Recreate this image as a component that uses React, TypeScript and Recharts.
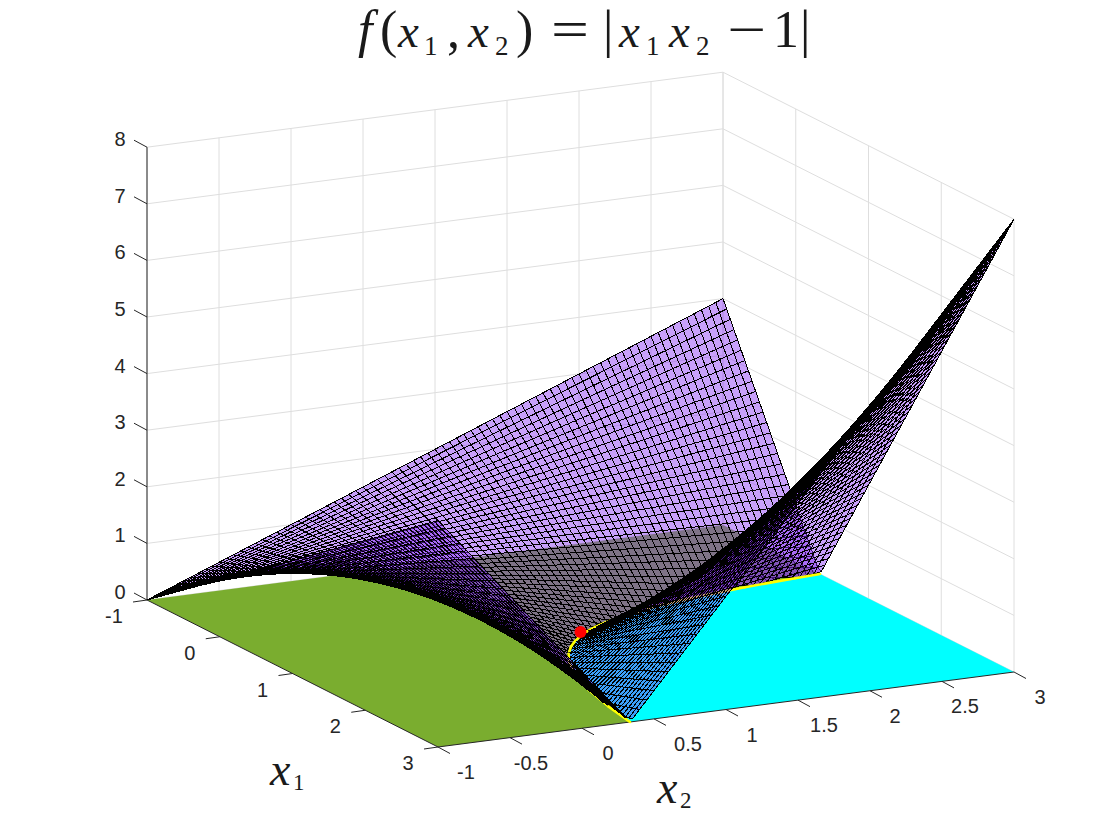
import React from 'react';
import { ScatterChart, Scatter, XAxis, YAxis } from 'recharts';

// Axis ticks as printed on the chart
const x1Ticks = [-1, 0, 1, 2, 3];
const x2Ticks = [-1, -0.5, 0, 0.5, 1, 1.5, 2, 2.5, 3];
const zTicks = [0, 1, 2, 3, 4, 5, 6, 7, 8];
const x2TickText = ['-1', '-0.5', '0', '0.5', '1', '1.5', '2', '2.5', '3'];

// The mesh sample positions; surface heights come from the function the title states.
const meshCells = 80;
const meshX1 = Array.from({ length: meshCells + 1 }, (_, i) => -1 + (4 * i) / meshCells);
const meshX2 = Array.from({ length: meshCells + 1 }, (_, i) => -1 + (4 * i) / meshCells);
const surfaceHeight = (a: number, b: number) => Math.abs(a * b - 1);

// The zero curve x1*x2 = 1, front end to back end
const curveX1 = [3, 2.6, 2.2, 1.9, 1.7, 1.5, 1.35, 1.2, 1.1, 1, 0.92, 0.85, 0.78, 0.7, 0.63, 0.56, 0.5, 0.45, 0.41, 0.38, 0.355, 1 / 3];
const optimum = { x1: 1, x2: 1, z: 0.07 };

const project = (x1: number, x2: number, z: number) => ({
  px: 147 + (x1 + 1) * 72.75 + (x2 + 1) * 144,
  py: 600 + (x1 + 1) * 36.75 - (x2 + 1) * 18.75 - z * 56.6,
});
const depth = (x1: number, x2: number, z: number) => (x1 + 1) / 4 - 0.5 * (x2 + 1) / 4 + 0.4 * z / 8;

type Pt = { px: number; py: number };
type Item = { kind: string; pts: Pt[]; d: number };

const flatten = (items: Item[]) => items.flatMap((it) => it.pts);

const makeRenderer = (items: Item[], attrs: (kind: string) => any) => (props: any) => {
  const points = props.points as { x: number; y: number }[];
  let offset = 0;
  return (
    <g>
      {items.map((it, i) => {
        const n = it.pts.length;
        const slice = points.slice(offset, offset + n);
        offset += n;
        const a = attrs(it.kind);
        const d = slice.map((p, j) => `${j ? 'L' : 'M'}${p.x.toFixed(2)} ${p.y.toFixed(2)}`).join('') + (a.closed ? 'Z' : '');
        const { closed, ...rest } = a;
        return <path key={i} d={d} {...rest} />;
      })}
    </g>
  );
};
const noShape = () => null;

// Back-wall grid
const gridItems: Item[] = [
  ...zTicks.map((z) => ({ kind: 'g', d: 0, pts: [project(-1, -1, z), project(-1, 3, z), project(3, 3, z)] })),
  ...x2Ticks.map((b) => ({ kind: 'g', d: 0, pts: [project(-1, b, 0), project(-1, b, 8)] })),
  ...x1Ticks.map((a) => ({ kind: 'g', d: 0, pts: [project(a, 3, 0), project(a, 3, 8)] })),
];

// Floor regions
const curvePts = curveX1.map((a) => project(a, 1 / a, 0));
const floorItems: Item[] = [
  { kind: 'green', d: 0, pts: [project(-1, -1, 0), project(3, -1, 0), ...curvePts, project(-1, 3, 0)] },
  { kind: 'cyan', d: 0, pts: [...curvePts, project(3, 3, 0)] },
];

// Axes and tick marks
const seg = (p: Pt, dx: number, dy: number): Pt[] => [p, { px: p.px + dx, py: p.py + dy }];
const axisItems: Item[] = [
  { kind: 'a', d: 0, pts: [project(-1, -1, 8), project(-1, -1, 0), project(3, -1, 0), project(3, 3, 0)] },
  ...zTicks.map((z) => ({ kind: 'a', d: 0, pts: seg(project(-1, -1, z), -13, -7) })),
  ...x1Ticks.map((a) => ({ kind: 'a', d: 0, pts: seg(project(a, -1, 0), -14, 2) })),
  ...x2Ticks.map((b) => ({ kind: 'a', d: 0, pts: seg(project(3, b, 0), 12, 6.5) })),
];

// Surface cells and curve pieces, far to near
const surfaceItems: Item[] = [];
for (let i = 0; i < meshCells; i++) {
  for (let j = 0; j < meshCells; j++) {
    const corners = [[meshX1[i], meshX2[j]], [meshX1[i + 1], meshX2[j]], [meshX1[i + 1], meshX2[j + 1]], [meshX1[i], meshX2[j + 1]]];
    const withZ = corners.map(([a, b]) => [a, b, surfaceHeight(a, b)]);
    const mean = [0, 1, 2].map((k) => (withZ[0][k] + withZ[1][k] + withZ[2][k] + withZ[3][k]) / 4);
    surfaceItems.push({ kind: 'cell', d: depth(mean[0], mean[1], mean[2]), pts: withZ.map(([a, b, z]) => project(a, b, z)) });
  }
}
for (let k = 0; k + 1 < curveX1.length; k++) {
  const a = curveX1[k];
  const c = curveX1[k + 1];
  surfaceItems.push({ kind: 'curve', d: depth((a + c) / 2, (1 / a + 1 / c) / 2, 0) + 0.03, pts: [project(a, 1 / a, 0), project(c, 1 / c, 0)] });
}
surfaceItems.sort((p, q) => p.d - q.d);

const styleOf = (kind: string) => {
  if (kind === 'g') return { fill: 'none', stroke: '#dedede', strokeWidth: 1 };
  if (kind === 'a') return { fill: 'none', stroke: '#262626', strokeWidth: 1 };
  if (kind === 'green') return { fill: '#7aad2f', stroke: 'none', closed: true };
  if (kind === 'cyan') return { fill: '#00ffff', stroke: 'none', closed: true };
  if (kind === 'curve') return { fill: 'none', stroke: '#ffff00', strokeWidth: 2.6, strokeLinecap: 'round' };
  return { fill: '#852cf4', fillOpacity: 0.45, stroke: '#000', strokeWidth: 1, shapeRendering: 'crispEdges', closed: true };
};

const tickFont = { fontFamily: '"Liberation Sans", Arial, sans-serif', fontSize: 20, fill: '#262626', textAnchor: 'middle', dominantBaseline: 'central' } as const;
const x2Nudges = [1, -6, -1, 7, -1, -1, -2, -4, -1];
const x1Nudges = [-3, 0, 0, 0, 0];
const zLabelData = zTicks.map((z) => ({ ...project(-1, -1, z), text: String(z), ox: -27, oy: -8 }));
const x1LabelData = x1Ticks.map((a, i) => ({ ...project(a, -1, 0), text: String(a), ox: -30 + x1Nudges[i], oy: 16 }));
const x2LabelData = x2Ticks.map((b, i) => ({ ...project(3, b, 0), text: x2TickText[i], ox: 27 + x2Nudges[i], oy: 25 }));
const tickLabelData = [...zLabelData, ...x1LabelData, ...x2LabelData];

const TickLabel = (p: any) => (
  <text x={p.cx + p.payload.ox} y={p.cy + p.payload.oy} {...tickFont}>{p.payload.text}</text>
);

const serif = '"Liberation Serif", "Times New Roman", serif';
const Run = ({ x, y, size, it, len, children }: any) => (
  <tspan x={x} y={y} fontSize={size} fontStyle={it ? 'italic' : 'normal'}
    textLength={len} lengthAdjust={len ? 'spacingAndGlyphs' : undefined}>{children}</tspan>
);

const TitleMark = (p: any) => {
  const y = p.cy;
  const at = (x: number) => p.cx + x - 350;
  return (
    <text fontFamily={serif} fill="#1a1a1a">
      <Run x={at(358)} y={y} size={52} it>f</Run>
      <Run x={at(380)} y={y} size={52}>(</Run>
      <Run x={at(398)} y={y} size={47} it>x</Run>
      <Run x={at(424)} y={y + 8} size={27}>1</Run>
      <Run x={at(447)} y={y} size={52}>,</Run>
      <Run x={at(468)} y={y} size={47} it>x</Run>
      <Run x={at(495)} y={y + 8} size={27}>2</Run>
      <Run x={at(516)} y={y} size={52}>)</Run>
      <Run x={at(551)} y={y} size={52} len={38}>=</Run>
      <Run x={at(603)} y={y} size={52}>|</Run>
      <Run x={at(619)} y={y} size={47} it>x</Run>
      <Run x={at(646)} y={y + 8} size={27}>1</Run>
      <Run x={at(669)} y={y} size={47} it>x</Run>
      <Run x={at(696)} y={y + 8} size={27}>2</Run>
      <Run x={at(727)} y={y} size={52} len={39}>−</Run>
      <Run x={at(773)} y={y} size={52}>1</Run>
      <Run x={at(800)} y={y} size={52}>|</Run>
    </text>
  );
};
const AxisName = (p: any) => (
  <text fontFamily={serif} fill="#1a1a1a">
    <Run x={p.cx} y={p.cy} size={46} it>x</Run>
    <Run x={p.cx + 23} y={p.cy + 5} size={23}>{p.payload.sub}</Run>
  </text>
);
const titleAnchor = [{ px: 350, py: 47 }];
const axisNames = [{ px: 270, py: 785, sub: '1' }, { px: 657, py: 803, sub: '2' }];
const optimumPoint = [project(optimum.x1, optimum.x2, optimum.z)];
const RedDot = (p: any) => <circle cx={p.cx} cy={p.cy} r={6} fill="#ff0000" />;

export default function App() {
  return (
    <div style={{ position: 'absolute', left: 0, top: 0, width: 1120, height: 840, background: '#fff' }}>
      <ScatterChart width={1120} height={840} margin={{ top: 0, right: 0, bottom: 0, left: 0 }}>
        <XAxis type="number" dataKey="px" domain={[0, 1120]} hide />
        <YAxis type="number" dataKey="py" domain={[0, 840]} reversed hide />
        <Scatter data={flatten(gridItems)} line={makeRenderer(gridItems, styleOf)} shape={noShape} isAnimationActive={false} />
        <Scatter data={flatten(floorItems)} line={makeRenderer(floorItems, styleOf)} shape={noShape} isAnimationActive={false} />
        <Scatter data={flatten(axisItems)} line={makeRenderer(axisItems, styleOf)} shape={noShape} isAnimationActive={false} />
        <Scatter data={flatten(surfaceItems)} line={makeRenderer(surfaceItems, styleOf)} shape={noShape} isAnimationActive={false} />
        <Scatter data={optimumPoint} shape={RedDot} isAnimationActive={false} />
        <Scatter data={tickLabelData} shape={TickLabel} isAnimationActive={false} />
        <Scatter data={titleAnchor} shape={TitleMark} isAnimationActive={false} />
        <Scatter data={axisNames} shape={AxisName} isAnimationActive={false} />
      </ScatterChart>
    </div>
  );
}
